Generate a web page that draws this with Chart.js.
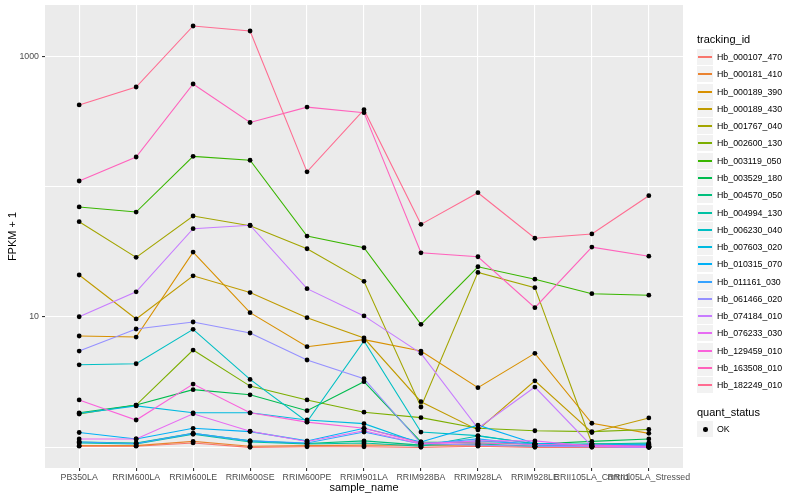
<!DOCTYPE html>
<html>
<head>
<meta charset="utf-8">
<script src="https://cdn.jsdelivr.net/npm/chart.js@4.4.1/dist/chart.umd.min.js"></script>
<style>
  html, body { margin: 0; padding: 0; background: #fff; }
  #wrap { position: relative; width: 800px; height: 500px; font-family: "Liberation Sans", Arial, sans-serif; }
  #chart { position: absolute; left: 0; top: 0; }
  .ltitle { position: absolute; left: 697px; font-size: 11px; line-height: 13px; color: #000; white-space: nowrap; }
  .lrow { position: absolute; left: 697px; height: 17px; white-space: nowrap; }
  .lkey { position: absolute; left: 0; top: 0; width: 16px; height: 16px; background: #F2F2F2; }
  .lkey i { position: absolute; left: 1px; right: 1px; top: 7.3px; height: 1.4px; }
  .lkey b { position: absolute; left: 6px; top: 6px; width: 4.6px; height: 4.6px; border-radius: 50%; background: #000; }
  .ltext { position: absolute; left: 20px; top: 0; font-size: 8.8px; line-height: 17px; color: #000; }
</style>
</head>
<body>
<div id="wrap">
  <canvas id="chart" width="800" height="500"></canvas>
  <div id="legend"></div>
</div>
<script>
const samples = ['PB350LA', 'RRIM600LA', 'RRIM600LE', 'RRIM600SE', 'RRIM600PE', 'RRIM901LA',
  'RRIM928BA', 'RRIM928LA', 'RRIM928LE', 'RRII105LA_Control', 'RRII105LA_Stressed'];

const trackingIds = ['Hb_000107_470', 'Hb_000181_410', 'Hb_000189_390', 'Hb_000189_430', 'Hb_001767_040',
  'Hb_002600_130', 'Hb_003119_050', 'Hb_003529_180', 'Hb_004570_050', 'Hb_004994_130',
  'Hb_006230_040', 'Hb_007603_020', 'Hb_010315_070', 'Hb_011161_030', 'Hb_061466_020',
  'Hb_074184_010', 'Hb_076233_030', 'Hb_129459_010', 'Hb_163508_010', 'Hb_182249_010'];

// FPKM + 1, one array per tracking_id, in sample order
const hb_000107_470 = [1.02, 1.02, 1.08, 1.00, 1.01, 1.01, 1.00, 1.02, 1.00, 1.00, 1.00];
const hb_000181_410 = [1.03, 1.03, 1.11, 1.02, 1.03, 1.04, 1.04, 1.04, 1.02, 1.02, 1.02];
const hb_000189_390 = [7.15, 7.02, 31.5, 10.8, 5.92, 6.7, 5.48, 2.87, 5.26, 1.53, 1.28];
const hb_000189_430 = [21.0, 9.66, 20.7, 15.4, 9.88, 6.9, 2.24, 1.36, 3.24, 1.30, 1.68];
const hb_001767_040 = [53.9, 28.7, 59.6, 50.2, 33.4, 18.8, 2.04, 22.0, 16.8, 1.07, 1.02];
const hb_002600_130 = [1.80, 2.11, 5.58, 2.95, 2.31, 1.86, 1.69, 1.40, 1.34, 1.32, 1.37];
const hb_003119_050 = [69.9, 63.9, 171, 159.5, 41.8, 34.0, 8.79, 24.3, 19.5, 15.1, 14.7];
const hb_003529_180 = [1.84, 2.11, 2.77, 2.53, 1.91, 3.19, 1.10, 1.08, 1.06, 1.11, 1.16];
const hb_004570_050 = [1.10, 1.08, 1.28, 1.12, 1.07, 1.12, 1.04, 1.06, 1.02, 1.06, 1.08];
const hb_004994_130 = [1.08, 1.06, 1.26, 1.10, 1.06, 1.08, 1.02, 1.22, 1.07, 1.04, 1.06];
const hb_006230_040 = [4.30, 4.38, 8.04, 3.32, 1.57, 6.54, 1.31, 1.23, 1.06, 1.06, 1.06];
const hb_007603_020 = [1.82, 2.08, 1.84, 1.84, 1.62, 1.52, 1.07, 1.12, 1.06, 1.04, 1.04];
const hb_010315_070 = [1.30, 1.16, 1.40, 1.32, 1.12, 1.40, 1.10, 1.48, 1.07, 1.04, 1.04];
const hb_011161_030 = [1.10, 1.07, 1.28, 1.12, 1.08, 1.31, 1.06, 1.16, 1.04, 1.03, 1.04];
const hb_061466_020 = [5.48, 8.09, 9.16, 7.54, 4.68, 3.36, 1.07, 1.04, 1.02, 1.01, 1.00];
const hb_074184_010 = [10.05, 15.6, 47.6, 50.6, 16.5, 10.2, 5.26, 1.40, 2.90, 1.02, 1.00];
const hb_076233_030 = [1.16, 1.16, 1.81, 1.33, 1.11, 1.34, 1.06, 1.12, 1.12, 1.02, 1.01];
const hb_129459_010 = [2.31, 1.62, 3.06, 1.84, 1.56, 1.40, 1.08, 1.08, 1.05, 1.04, 1.02];
const hb_163508_010 = [110.6, 169, 614, 311, 408, 370, 31.1, 29.0, 11.8, 34.4, 29.3];
const hb_182249_010 = [424, 582, 1711, 1566, 130, 390, 51.4, 89.9, 40.2, 43.4, 85.3];

const seriesValues = [hb_000107_470, hb_000181_410, hb_000189_390, hb_000189_430, hb_001767_040,
  hb_002600_130, hb_003119_050, hb_003529_180, hb_004570_050, hb_004994_130,
  hb_006230_040, hb_007603_020, hb_010315_070, hb_011161_030, hb_061466_020,
  hb_074184_010, hb_076233_030, hb_129459_010, hb_163508_010, hb_182249_010];

const yGridValues = [1, 10, 100, 1000];
const yLabelValues = [10, 1000];

const colors = ['#F8766D', '#EA8331', '#D89000', '#C09B00', '#A3A500', '#7CAE00', '#39B600', '#00BB4E',
  '#00BF7D', '#00C1A3', '#00BFC4', '#00BAE0', '#00B0F6', '#35A2FF', '#9590FF', '#C77CFF',
  '#E76BF3', '#FA62DB', '#FF62BC', '#FF6C91'];

const FONT = '"Liberation Sans", Arial, sans-serif';
Chart.defaults.font.family = FONT;

// grey panel behind grid
const panelBg = {
  id: 'panelBg',
  beforeDraw(chart) {
    const { ctx, chartArea: a } = chart;
    ctx.save();
    ctx.fillStyle = '#EBEBEB';
    ctx.fillRect(a.left, a.top, a.right - a.left, a.bottom - a.top);
    ctx.restore();
  }
};

const toPoints = vals => vals.map((v, j) => ({ x: j, y: v }));

const lineSets = seriesValues.map((vals, i) => ({
  label: trackingIds[i],
  data: toPoints(vals),
  borderColor: colors[i],
  borderWidth: 1.1,
  pointRadius: 0,
  fill: false,
  tension: 0,
  order: 100 - i,
}));

// quant_status = OK points, drawn on top of every line
const pointSets = seriesValues.map((vals, i) => ({
  label: trackingIds[i] + ' OK',
  data: toPoints(vals),
  showLine: false,
  pointRadius: 2.4,
  pointBackgroundColor: '#000',
  pointBorderWidth: 0,
  order: 0,
}));

const noPad = s => { s.paddingTop = 0; s.paddingBottom = 0; s.paddingLeft = 0; s.paddingRight = 0; };

new Chart(document.getElementById('chart').getContext('2d'), {
  type: 'line',
  data: { datasets: [...lineSets, ...pointSets] },
  options: {
    responsive: false,
    animation: false,
    layout: { padding: { top: 5, right: 117, left: 0, bottom: 0 } },
    plugins: { legend: { display: false }, tooltip: { enabled: false } },
    scales: {
      x: {
        type: 'linear',
        min: -0.6,
        max: 10.6,
        afterBuildTicks: s => { s.ticks = samples.map((_, i) => ({ value: i })); },
        afterFit: s => { s.height = 32; noPad(s); },
        ticks: {
          callback: v => samples[v],
          autoSkip: false,
          maxRotation: 0,
          minRotation: 0,
          color: '#4D4D4D',
          font: { size: 8.8 },
          padding: 1,
        },
        grid: { color: '#FFFFFF', lineWidth: 1.1, tickLength: 3, tickColor: '#333333' },
        border: { display: false },
        title: { display: true, text: 'sample_name', color: '#000', font: { size: 11 }, padding: { top: 0, bottom: 5 } },
      },
      y: {
        type: 'logarithmic',
        min: 0.694,
        max: 2479,
        afterBuildTicks: s => { s.ticks = yGridValues.map(v => ({ value: v })); },
        afterFit: s => { s.width = 45; noPad(s); },
        ticks: {
          callback: v => yLabelValues.includes(v) ? String(v) : '',
          color: '#4D4D4D',
          font: { size: 8.8 },
          padding: 3,
        },
        grid: {
          color: '#FFFFFF',
          lineWidth: 1.1,
          tickLength: 3,
          tickColor: c => (c.tick && yLabelValues.includes(c.tick.value)) ? '#333333' : 'rgba(0,0,0,0)',
        },
        border: { display: false },
        title: { display: true, text: 'FPKM + 1', color: '#000', font: { size: 11 }, padding: { top: 6, bottom: 0 } },
      },
    },
  },
  plugins: [panelBg],
});

// legend (ggplot style)
const legend = document.getElementById('legend');
let html = '<div class="ltitle" style="top:33px">tracking_id</div>';
trackingIds.forEach((id, i) => {
  const top = Math.round(49 + i * 17.28);
  html += '<div class="lrow" style="top:' + top + 'px"><div class="lkey"><i style="background:' + colors[i] +
    '"></i></div><div class="ltext">' + id + '</div></div>';
});
html += '<div class="ltitle" style="top:406px">quant_status</div>';
html += '<div class="lrow" style="top:421px"><div class="lkey"><b></b></div><div class="ltext">OK</div></div>';
legend.innerHTML = html;
</script>
</body>
</html>
